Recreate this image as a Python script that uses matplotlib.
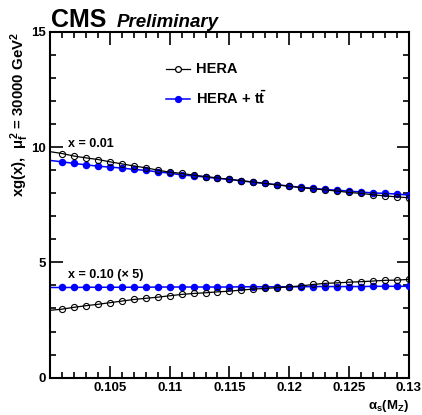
import numpy as np
import matplotlib
matplotlib.use("Agg")
import matplotlib.pyplot as plt
from matplotlib.ticker import MultipleLocator

plt.rcParams['font.family'] = ['Liberation Sans', 'DejaVu Sans']
plt.rcParams['font.weight'] = 'bold'
plt.rcParams['mathtext.fontset'] = 'custom'
plt.rcParams['mathtext.rm'] = 'Liberation Sans:bold'
plt.rcParams['mathtext.it'] = 'Liberation Sans:bold'
plt.rcParams['mathtext.bf'] = 'Liberation Sans:bold'

# alpha_s(M_Z) scan points
alphas = [0.100, 0.101, 0.102, 0.103, 0.104, 0.105, 0.106, 0.107, 0.108, 0.109,
          0.110, 0.111, 0.112, 0.113, 0.114, 0.115, 0.116, 0.117, 0.118, 0.119,
          0.120, 0.121, 0.122, 0.123, 0.124, 0.125, 0.126, 0.127, 0.128, 0.129,
          0.130]

# xg(x) at x = 0.01
hera_x001 = [9.80, 9.72, 9.61, 9.53, 9.46, 9.36, 9.27, 9.18, 9.10, 9.00,
             8.91, 8.86, 8.78, 8.72, 8.66, 8.60, 8.54, 8.48, 8.42, 8.36,
             8.30, 8.24, 8.19, 8.14, 8.09, 8.03, 7.99, 7.93, 7.88, 7.84,
             7.80]
herat_x001 = [9.42, 9.36, 9.29, 9.23, 9.17, 9.13, 9.09, 9.03, 8.99, 8.92,
              8.87, 8.79, 8.75, 8.70, 8.64, 8.60, 8.53, 8.48, 8.42, 8.36,
              8.31, 8.25, 8.21, 8.16, 8.13, 8.09, 8.05, 8.01, 7.99, 7.96,
              7.92]

# xg(x) at x = 0.10, scaled by 5
hera_x010 = [2.92, 2.97, 3.05, 3.12, 3.18, 3.25, 3.32, 3.39, 3.44, 3.49,
             3.55, 3.61, 3.65, 3.68, 3.72, 3.75, 3.80, 3.84, 3.87, 3.90,
             3.94, 3.98, 4.04, 4.09, 4.11, 4.14, 4.16, 4.19, 4.22, 4.23,
             4.26]
herat_x010 = [3.91, 3.91, 3.91, 3.92, 3.92, 3.92, 3.92, 3.92, 3.92, 3.93,
              3.93, 3.93, 3.93, 3.93, 3.93, 3.93, 3.94, 3.94, 3.94, 3.94,
              3.94, 3.94, 3.95, 3.95, 3.95, 3.95, 3.95, 3.96, 3.96, 3.96,
              3.96]

fig = plt.figure(figsize=(4.22, 4.15), dpi=100)
ax = fig.add_axes([0.1185, 0.090, 0.8505, 0.8335])

for y in (herat_x001, herat_x010):
    ax.plot(alphas, y, color='blue', lw=1.1, zorder=2)
    ax.plot(alphas[1:], y[1:], ls='none', marker='o', ms=4.4,
            mfc='blue', mec='blue', zorder=3)
for y in (hera_x001, hera_x010):
    ax.plot(alphas, y, color='black', lw=0.9, zorder=4)
    ax.plot(alphas[1:], y[1:], ls='none', marker='o', ms=4.4,
            mfc='none', mec='black', mew=0.8, zorder=5)

ax.set_xlim(0.100, 0.130)
ax.set_ylim(0, 15)
ax.xaxis.set_minor_locator(MultipleLocator(0.001))
ax.yaxis.set_minor_locator(MultipleLocator(1))
ax.set_xticks([0.105, 0.11, 0.115, 0.12, 0.125, 0.13])
ax.set_xticklabels(['0.105', '0.11', '0.115', '0.12', '0.125', '0.13'])
ax.set_yticks([0, 5, 10, 15])
ax.set_yticklabels(['0', '5', '10', '15'])
ax.tick_params(which='both', direction='in', top=True, right=True,
               labelsize=9.5, width=1.2)
ax.tick_params(which='major', length=9, pad=3)
ax.tick_params(which='minor', length=4.5)
for s in ax.spines.values():
    s.set_linewidth(1.5)

ax.set_ylabel(r'xg(x),  $\mu_{f}^{2}$ = 30000 GeV$^{2}$', fontsize=10.8,
              fontweight='bold', loc='top', labelpad=0)
ax.text(1.0, -0.058, r'$\alpha_{s}$(M$_{Z}$)', transform=ax.transAxes,
        ha='right', va='top', fontsize=9.5, fontweight='bold')

# curve labels
ax.text(0.1015, 10.0, 'x = 0.01', fontsize=9, fontweight='bold')
ax.text(0.1015, 4.3, 'x = 0.10 (\u00d7 5)', fontsize=9, fontweight='bold')

# legend entries
ax.plot([0.1097, 0.1117], [13.4, 13.4], color='black', lw=0.9)
ax.plot([0.1107], [13.4], marker='o', ms=4.2, mfc='white', mec='black', mew=0.9)
ax.text(0.1122, 13.4, 'HERA', fontsize=10.5, fontweight='bold', va='center')
ax.plot([0.1097, 0.1117], [12.1, 12.1], color='blue', lw=1.1)
ax.plot([0.1107], [12.1], marker='o', ms=4.2, mfc='blue', mec='blue')
ax.text(0.1122, 12.1, r'HERA + t$\bar{\mathrm{t}}$', fontsize=10.5,
        fontweight='bold', va='center')

fig.text(0.121, 0.935, 'CMS', fontsize=18, fontweight='bold', va='baseline')
fig.text(0.277, 0.935, 'Preliminary', fontsize=13.5, fontweight='bold',
         style='italic', va='baseline')

fig.savefig('out.png', dpi=100)
